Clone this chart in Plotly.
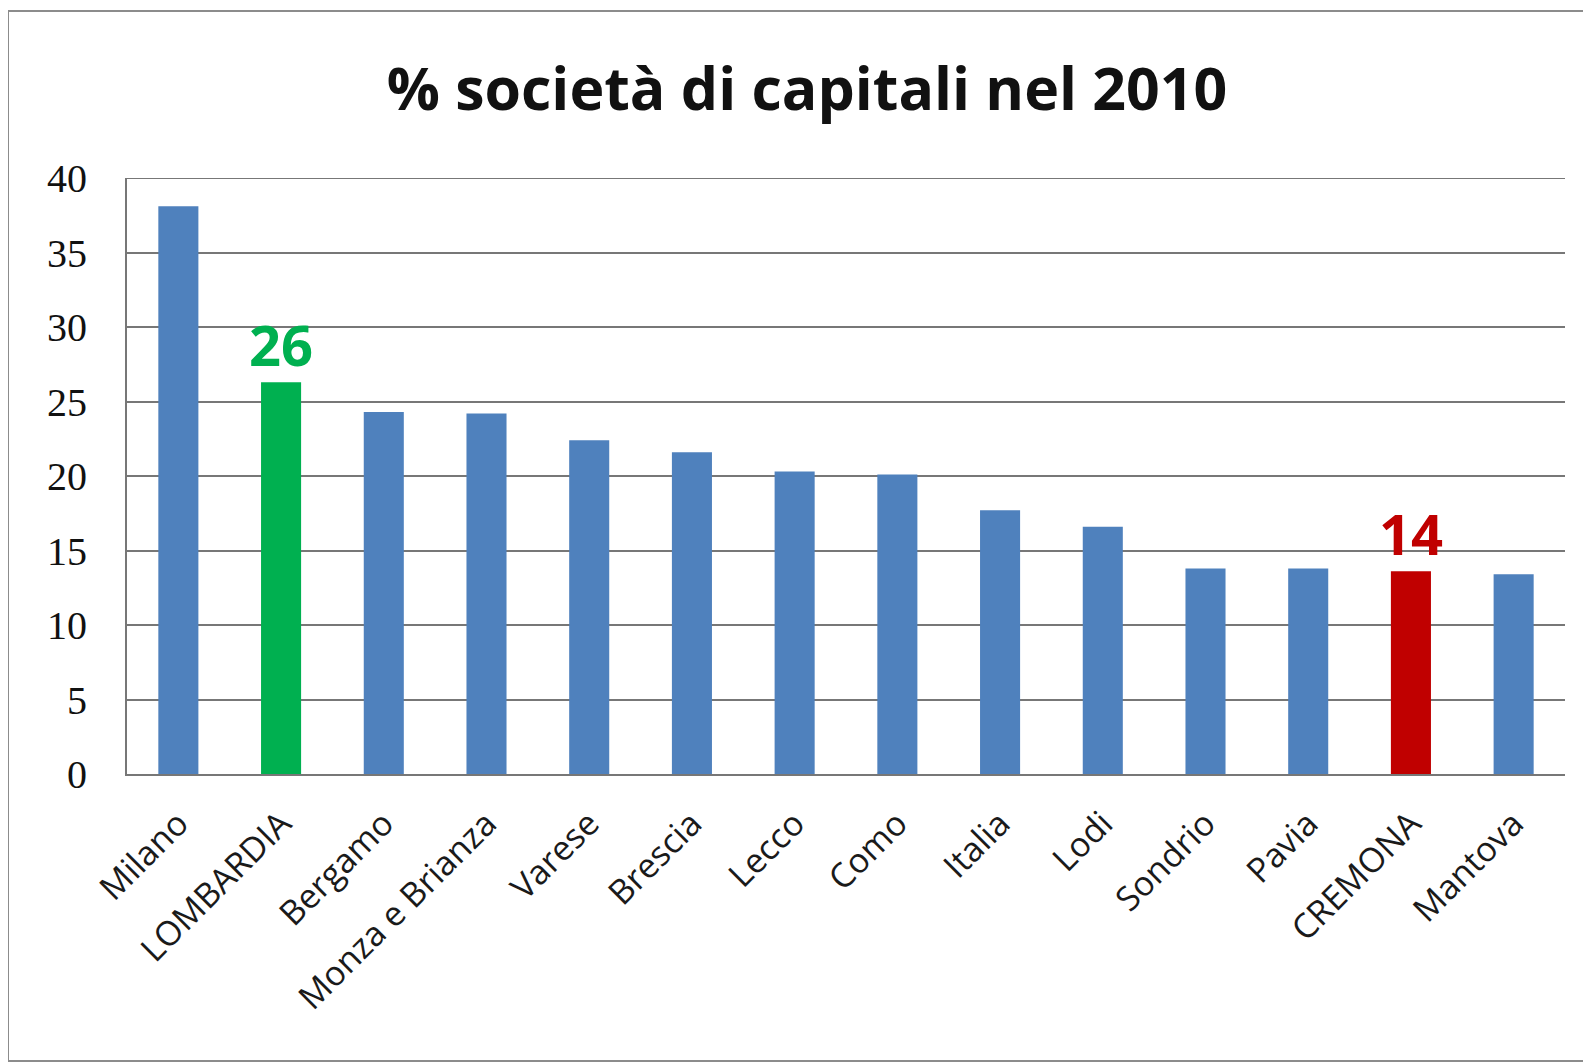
import plotly.graph_objects as go

categories = ["Milano", "LOMBARDIA", "Bergamo", "Monza e Brianza", "Varese", "Brescia",
              "Lecco", "Como", "Italia", "Lodi", "Sondrio", "Pavia", "CREMONA", "Mantova"]
values = [38.1, 26.3, 24.3, 24.2, 22.4, 21.6, 20.3, 20.1, 17.7, 16.6, 13.8, 13.8, 13.6, 13.4]
bar_colors = ["#4F81BD", "#00B050", "#4F81BD", "#4F81BD", "#4F81BD", "#4F81BD", "#4F81BD",
              "#4F81BD", "#4F81BD", "#4F81BD", "#4F81BD", "#4F81BD", "#C00000", "#4F81BD"]
highlight_labels = {"LOMBARDIA": ("26", "#00B050"), "CREMONA": ("14", "#C00000")}
title_text = "% società di capitali nel 2010"
y_ticks = [0, 5, 10, 15, 20, 25, 30, 35, 40]

# page body has an 8px margin, so the figure is placed at (8, 8)
W, H = 1583, 1056
ml, mr, mt, mb = 119, 26, 170, 290
pw, ph = W - ml - mr, H - mt - mb

fig = go.Figure()
fig.add_trace(go.Bar(x=categories, y=values, marker=dict(color=bar_colors, line=dict(width=0)),
                     hoverinfo="x+y"))

for cat, (txt, col) in highlight_labels.items():
    v = values[categories.index(cat)]
    fig.add_annotation(x=cat, y=v, text=f"<b>{txt}</b>", showarrow=False, yanchor="bottom",
                       yshift=-2, font=dict(family="Open Sans", size=56, color=col))


def px_to_paper_x(px):
    return (px - ml) / pw


def px_to_paper_y(py):
    return 1 - (py - mt) / ph


# outer frame (page border)
fig.add_shape(type="rect", xref="paper", yref="paper",
              x0=px_to_paper_x(0), x1=px_to_paper_x(W + 10),
              y0=px_to_paper_y(1053), y1=px_to_paper_y(3),
              line=dict(color="#8C8C8C", width=2), layer="below")

# top gridline at 40
fig.add_shape(type="line", xref="paper", yref="y", x0=0, x1=1, y0=40, y1=40,
              line=dict(color="#777777", width=2))

fig.update_layout(
    width=W, height=H,
    margin=dict(l=ml, r=mr, t=mt, b=mb),
    paper_bgcolor="white", plot_bgcolor="white",
    bargap=0.61,
    showlegend=False,
    title=dict(text=f"<b>{title_text}</b>", x=799 / W, xanchor="center",
               y=1 - 81 / H, yanchor="middle",
               font=dict(family="Open Sans", size=59, color="#111111")),
    xaxis=dict(tickangle=-45, tickfont=dict(family="Open Sans", size=34, color="#1a1a1a"),
               showline=True, linecolor="#777777", linewidth=2, ticks="",
               ticklabelstandoff=14),
    yaxis=dict(range=[0, 40], tickvals=y_ticks, showgrid=True, gridcolor="#777777", gridwidth=2,
               showline=True, linecolor="#777777", linewidth=2, zeroline=False,
               tickfont=dict(family="Liberation Serif", size=40, color="#111111"),
               ticklabelstandoff=30),
)

fig.write_html("out.html")
